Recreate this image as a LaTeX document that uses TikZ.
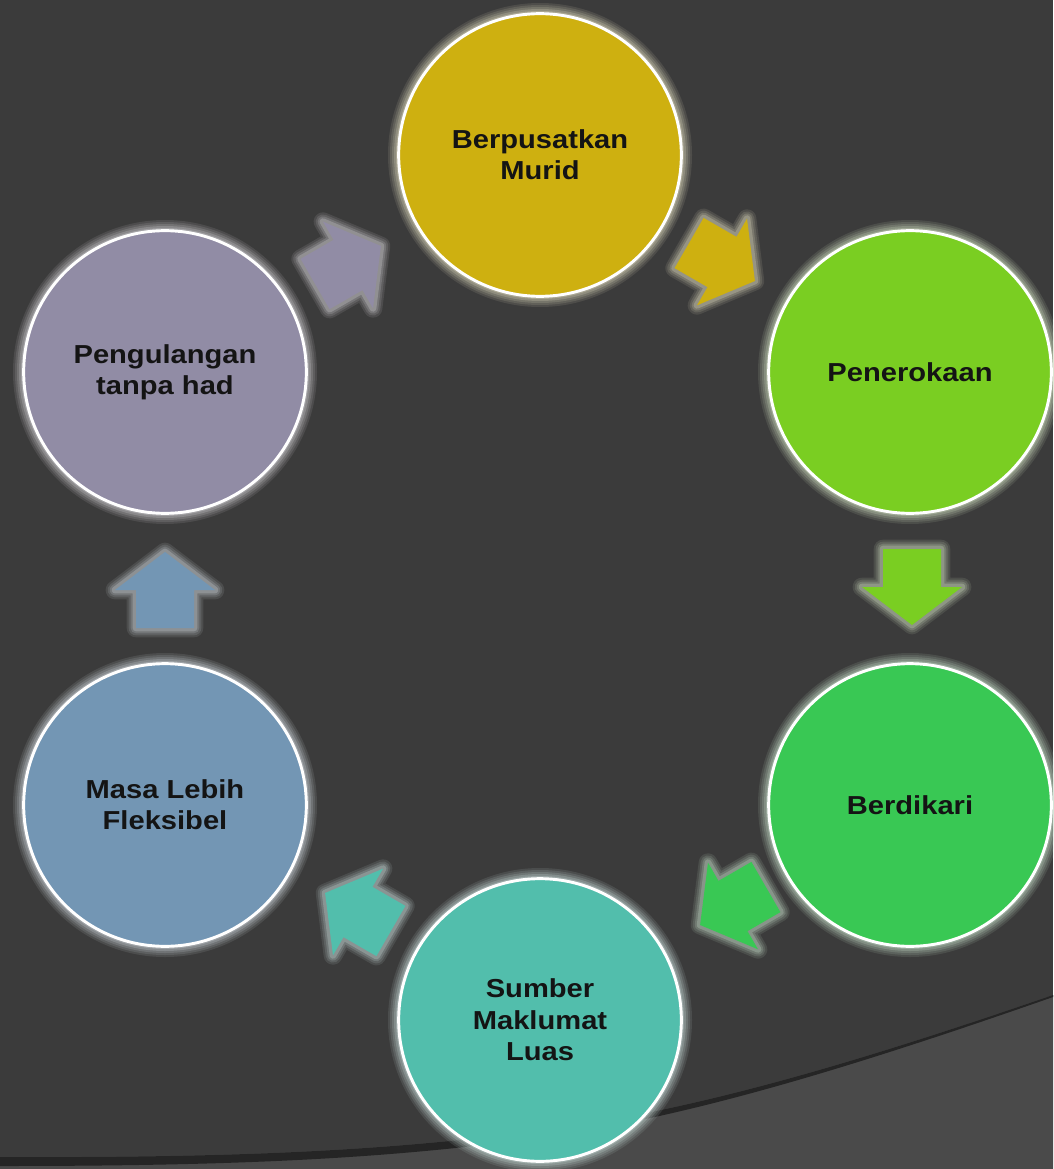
\documentclass[tikz,border=0pt]{standalone}
\usepackage{fontspec}
\newfontfamily\labfont[FakeStretch=1.12]{Liberation Sans}
\definecolor{bg}{HTML}{3B3B3B}
\definecolor{bgl}{HTML}{4A4A4A}
\definecolor{band}{HTML}{252525}
\definecolor{cyel}{RGB}{206,176,16}
\definecolor{cgrn}{RGB}{122,206,34}
\definecolor{cgrnb}{RGB}{57,200,84}
\definecolor{cteal}{RGB}{82,190,172}
\definecolor{cblue}{RGB}{115,150,180}
\definecolor{clav}{RGB}{145,140,165}
\tikzset{
  glowc/.style={draw=#1!25!white!75!gray!90!white},
  bubble/.style={circle, minimum size=212pt, inner sep=0pt, fill=#1,
    draw=white, line width=2.2pt,
    preaction={glowc=#1, line width=16pt, opacity=0.12},
    preaction={glowc=#1, line width=13pt, opacity=0.14},
    preaction={glowc=#1, line width=10pt, opacity=0.18},
    preaction={glowc=#1, line width=7pt, opacity=0.25},
    preaction={glowc=#1, line width=4pt, opacity=0.35},
    text=black!92, align=center,
    font=\labfont\bfseries\fontsize{19.5}{23.5}\selectfont},
  blockarr/.style={fill=#1, line join=round,
    preaction={glowc=#1, line width=14pt, opacity=0.12, line join=round},
    preaction={glowc=#1, line width=11pt, opacity=0.15, line join=round},
    preaction={glowc=#1, line width=8pt, opacity=0.2, line join=round},
    preaction={glowc=#1, line width=5pt, opacity=0.3, line join=round}}
}
\newcommand\blockarr[4]{%
  \path[blockarr=#1, shift={(#2,#3)}, rotate=#4]
    (-38,-29) -- (0,-29) -- (0,-50) -- (38,0) -- (0,50) -- (0,29) -- (-38,29) -- cycle;}
\begin{document}
\begin{tikzpicture}[x=0.75pt, y=-0.75pt]
\useasboundingbox (0,0) rectangle (1053,1169);
\fill[bg] (0,0) rectangle (1053,1169);
% lighter lower region
\fill[bgl] (0,1157) .. controls (250,1158) and (400,1150) .. (560,1128)
  .. controls (700,1108) and (850,1065) .. (1053,995) -- (1053,1169) -- (0,1169) -- cycle;
\fill[band] (0,1157) .. controls (250,1158) and (400,1150) .. (560,1128)
  .. controls (700,1108) and (850,1065) .. (1053,995)
  -- (1053,997) .. controls (850,1068) and (700,1113) .. (560,1135)
  .. controls (400,1158) and (250,1166) .. (0,1166) -- cycle;
% arrows
\blockarr{cyel}{722}{262}{-30}
\blockarr{cgrn}{912}{587}{-90}
\blockarr{cgrnb}{733}{906}{-150}
\blockarr{cteal}{358}{912}{150}
\blockarr{cblue}{165}{590}{90}
\blockarr{clav}{348}{265}{30}
% circles
\node[bubble=cyel] (c1) at (540,155) {Berpusatkan\\Murid};
\node[bubble=cgrn] (c2) at (910,372) {Penerokaan};
\node[bubble=cgrnb] (c3) at (910,805) {Berdikari};
\node[bubble=cteal] (c4) at (540,1020) {Sumber\\Maklumat\\Luas};
\node[bubble=cblue] (c5) at (165,805) {Masa Lebih\\Fleksibel};
\node[bubble=clav] (c6) at (165,372) {Pengulangan\\tanpa had};
\end{tikzpicture}
\end{document}
